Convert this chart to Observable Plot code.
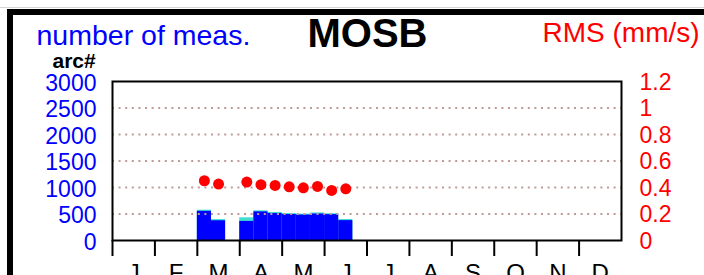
<!DOCTYPE html>
<html>
<head>
<meta charset="utf-8">
<script src="https://cdn.jsdelivr.net/npm/d3@7"></script>
<script src="https://cdn.jsdelivr.net/npm/@observablehq/plot@0.6"></script>
<style>
  html, body { margin: 0; padding: 0; background: white; }
  #wrap { position: relative; width: 704px; height: 275px; overflow: hidden; }
  #greyline { position: absolute; left: 0; top: 7px; width: 704px; height: 1px; background: #d4d4d4; z-index: 3; }
  #border { position: absolute; left: 7px; top: 9px; width: 800px; height: 400px; border-left: 6px solid black; border-top: 6px solid black; z-index: 3; pointer-events: none; }
  #chart svg { display: block; }
</style>
</head>
<body>
<div id="wrap">
  <div id="greyline"></div>
  <div id="border"></div>
  <div id="chart"></div>
</div>
<script>
// ---- data ----
const monthLabels = ["J","F","M","A","M","J","J","A","S","O","N","D"];
const dekadMonth  = [2, 2, 3, 3, 3, 4, 4, 4, 5, 5];       // 0 = January
const dekadIndex  = [0, 1, 0, 1, 2, 0, 1, 2, 0, 1];       // 10-day period within month
const totalMeas   = [572, 395, 428, 560, 530, 510, 498, 520, 506, 396];
const arcMeas     = [550, 372, 360, 540, 510, 490, 480, 500, 488, 375];
const rmsValues   = [0.451, 0.426, 0.441, 0.421, 0.416, 0.405, 0.398, 0.408, 0.378, 0.390];
const countTicks  = [0, 500, 1000, 1500, 2000, 2500, 3000];
const countMax = 3000;
const rmsMax = 1.2;
const titleText = "MOSB";
const leftTitle = "number of meas.";
const rightTitle = "RMS (mm/s)";
const leftUnit = "arc#";

const k = countMax / rmsMax;
const rows = dekadMonth.map((m, i) => ({
  x1: m + dekadIndex[i] / 3,
  x2: m + (dekadIndex[i] + 1) / 3,
  xc: m + (dekadIndex[i] + 0.5) / 3,
  total: totalMeas[i],
  arc: arcMeas[i],
  rms: rmsValues[i]
}));
const monthStarts = monthLabels.map((_, i) => i);
const monthMids = monthLabels.map((_, i) => i + 0.5);
const gridTicks = countTicks.slice(1, -1);

const font = "'Liberation Sans', Arial, Helvetica, sans-serif";

const chart = Plot.plot({
  width: 704,
  height: 275,
  marginTop: 81,
  marginBottom: 35,
  marginLeft: 112,
  marginRight: 83,
  style: { fontFamily: font, background: "transparent", overflow: "visible" },
  x: { domain: [0, 12] },
  y: { domain: [0, countMax] },
  marks: [
    Plot.rectY(rows, { x1: "x1", x2: "x2", y: "total", fill: "#40dcd2", inset: 0 }),
    Plot.rectY(rows, { x1: "x1", x2: "x2", y: "arc", fill: "#0000ff", inset: 0 }),
    Plot.ruleY(gridTicks, { stroke: "#bf9999", strokeWidth: 2, strokeDasharray: "2,4.6" }),
    Plot.dot(rows, { x: "xc", y: d => d.rms * k, r: 5.5, fill: "#ff0000", stroke: "none" }),
    Plot.frame({ stroke: "black", strokeWidth: 2 }),
    Plot.axisY({ anchor: "left", ticks: countTicks, tickSize: 0, tickPadding: 16, fontSize: 23, color: "#0000ff", label: null,
                 tickFormat: d => String(d), dy: 2 }),
    Plot.axisY({ anchor: "right", ticks: countTicks, tickSize: 0, tickPadding: 18, fontSize: 23, color: "#ff0000", label: null,
                 tickFormat: d => String(+(d / k).toFixed(1)), dy: 1 }),
    Plot.axisX({ ticks: monthStarts, tickSize: 16, strokeWidth: 2, stroke: "black", text: null, label: null }),
    Plot.axisX({ ticks: monthMids, tickSize: 0, tickPadding: 23, fontSize: 24, fill: "black", label: null,
                 tickFormat: d => monthLabels[Math.floor(d)] }),
    Plot.text([titleText], { text: d => d, frameAnchor: "top-left", lineAnchor: "middle", dx: 195, dy: -47.8, textAnchor: "start", fontSize: 40, fontWeight: "bold", fill: "black" }),
    Plot.text([leftTitle], { text: d => d, frameAnchor: "top-left", lineAnchor: "middle", dx: -76, dy: -46.1, textAnchor: "start", fontSize: 28.5, fill: "#0000ff" }),
    Plot.text([rightTitle], { text: d => d, frameAnchor: "top-left", lineAnchor: "middle", dx: 430, dy: -48, textAnchor: "start", fontSize: 28, fill: "#ff0000" }),
    Plot.text([leftUnit], { text: d => d, frameAnchor: "top-left", lineAnchor: "middle", dx: -60, dy: -20, textAnchor: "start", fontSize: 21, fontWeight: "bold", fill: "black" })
  ]
});
document.getElementById("chart").appendChild(chart);
</script>
</body>
</html>
